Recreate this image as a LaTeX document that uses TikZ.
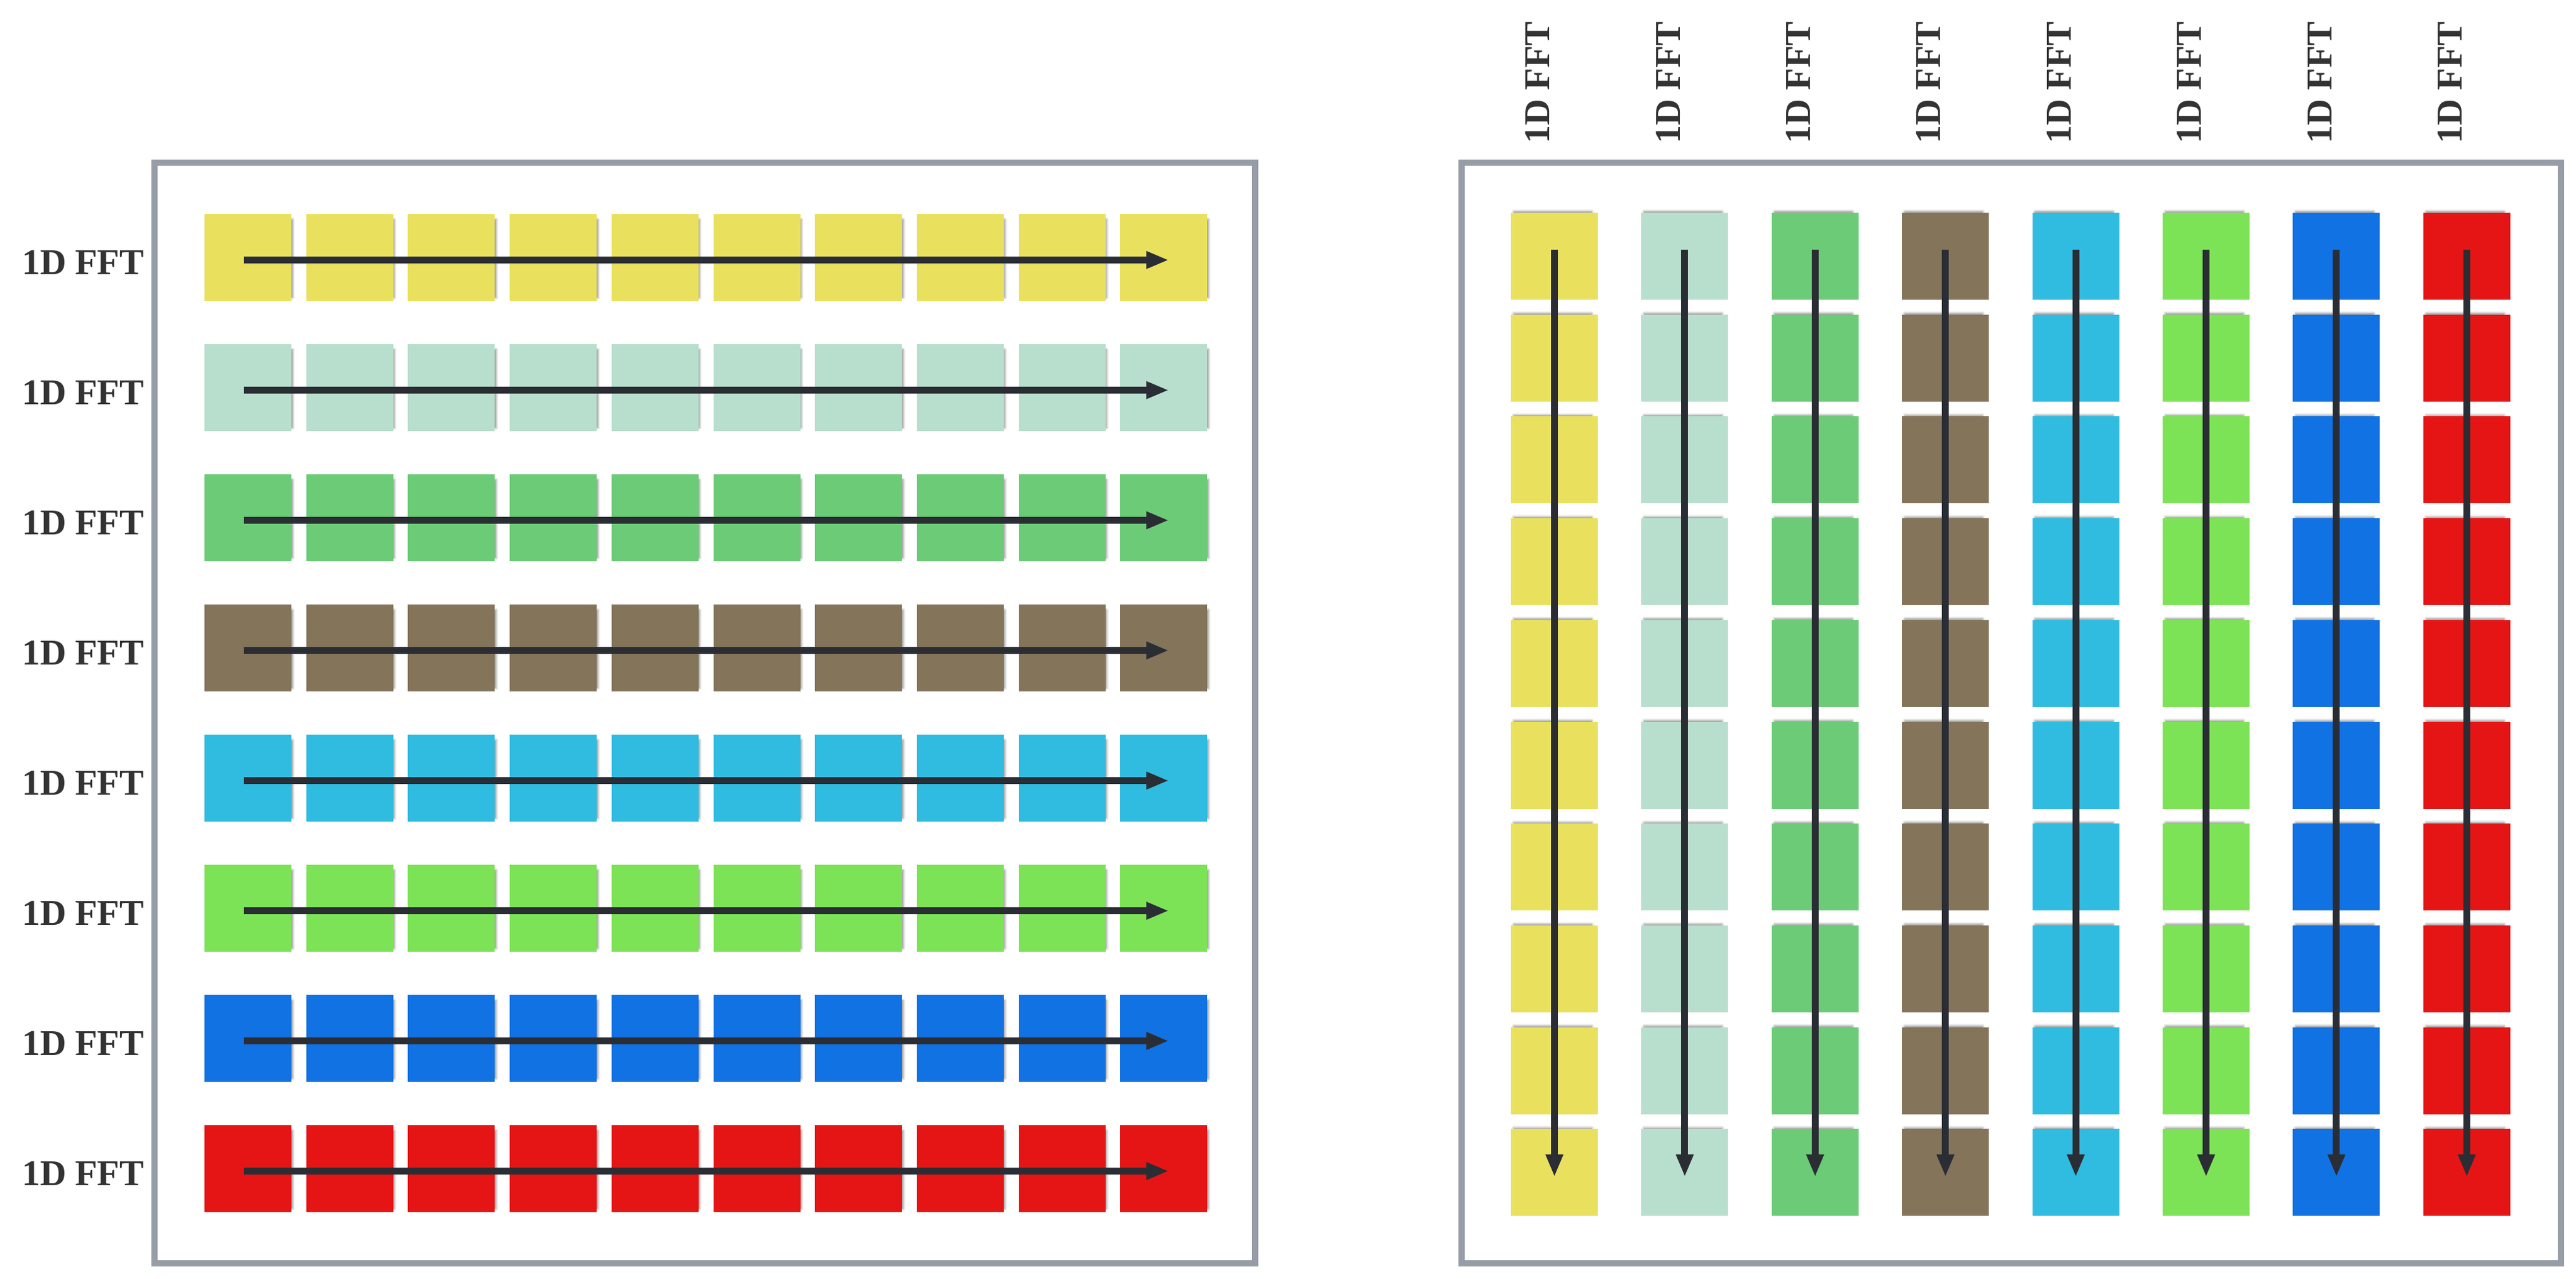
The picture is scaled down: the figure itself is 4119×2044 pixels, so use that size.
\documentclass[tikz,border=0pt]{standalone}
\usepackage{fontspec}
\setmainfont{Liberation Serif}
\usepackage{xcolor}
\usetikzlibrary{positioning, arrows.meta, shadows.blur}
\definecolor{c1}{HTML}{E9E15E}
\definecolor{c2}{HTML}{B8DFCD}
\definecolor{c3}{HTML}{6CCB77}
\definecolor{c4}{HTML}{83745A}
\definecolor{c5}{HTML}{2FBCE0}
\definecolor{c6}{HTML}{7DE356}
\definecolor{c7}{HTML}{1172E3}
\definecolor{c8}{HTML}{E51515}
\definecolor{framegray}{HTML}{979DA6}
\definecolor{ink}{HTML}{2A2D33}
\definecolor{txt}{HTML}{333333}
\tikzset{
    cell/.style={rectangle, fill=#1, minimum size=139pt, inner sep=0pt},
    rcell/.style={cell=#1, blur shadow={shadow scale=0.9, shadow xshift=10pt, shadow yshift=-2pt, shadow blur radius=4pt, shadow opacity=45}},
    ccell/.style={cell=#1, blur shadow={shadow scale=0.9, shadow xshift=-3pt, shadow yshift=10pt, shadow blur radius=4pt, shadow opacity=45}},
    frame/.style={draw=framegray, line width=10pt},
    fft/.style={text=txt, font=\bfseries\fontsize{58}{62}\selectfont, inner sep=0pt},
    flow/.style={draw=ink, line width=11pt, -{Triangle[length=36pt, width=26pt]}},
}
\begin{document}
\begin{tikzpicture}[x=1pt, y=-1pt]
    \useasboundingbox (0,0) rectangle (4119,2044);
    \draw[frame] (247,260) rectangle (2007,2019);
    \draw[frame] (2337,260) rectangle (4095,2019);
    % rows
    \foreach \r in {1,...,8} {
        \node[rcell=c\r] (L-\r-1) at (396.5, {411.5+208*(\r-1)}) {};
        \foreach \c [remember=\c as \p (initially 1)] in {2,...,10}
            \node[rcell=c\r] (L-\r-\c) [right=23.3pt of L-\r-\p] {};
        \node[fft] (LT-\r) at (132.5, {419.5+208*(\r-1)}) {1D FFT};
        \draw[flow] ([xshift=-7pt, yshift=-4pt]L-\r-1.center) -- ([xshift=8pt, yshift=-4pt]L-\r-10.center);
    }
    % columns
    \foreach \c in {1,...,8} {
        \node[ccell=c\c] (R-1-\c) at ({2485.5+208.4*(\c-1)}, 409.5) {};
        \foreach \r [remember=\r as \p (initially 1)] in {2,...,10}
            \node[ccell=c\c] (R-\r-\c) [below=23.3pt of R-\p-\c] {};
        \node[fft, rotate=90] (RT-\c) at ({2458.5+208.4*(\c-1)}, 132) {1D FFT};
        \draw[flow] ([yshift=11pt]R-1-\c.center) -- ([yshift=-7pt]R-10-\c.center);
    }
\end{tikzpicture}
\end{document}
